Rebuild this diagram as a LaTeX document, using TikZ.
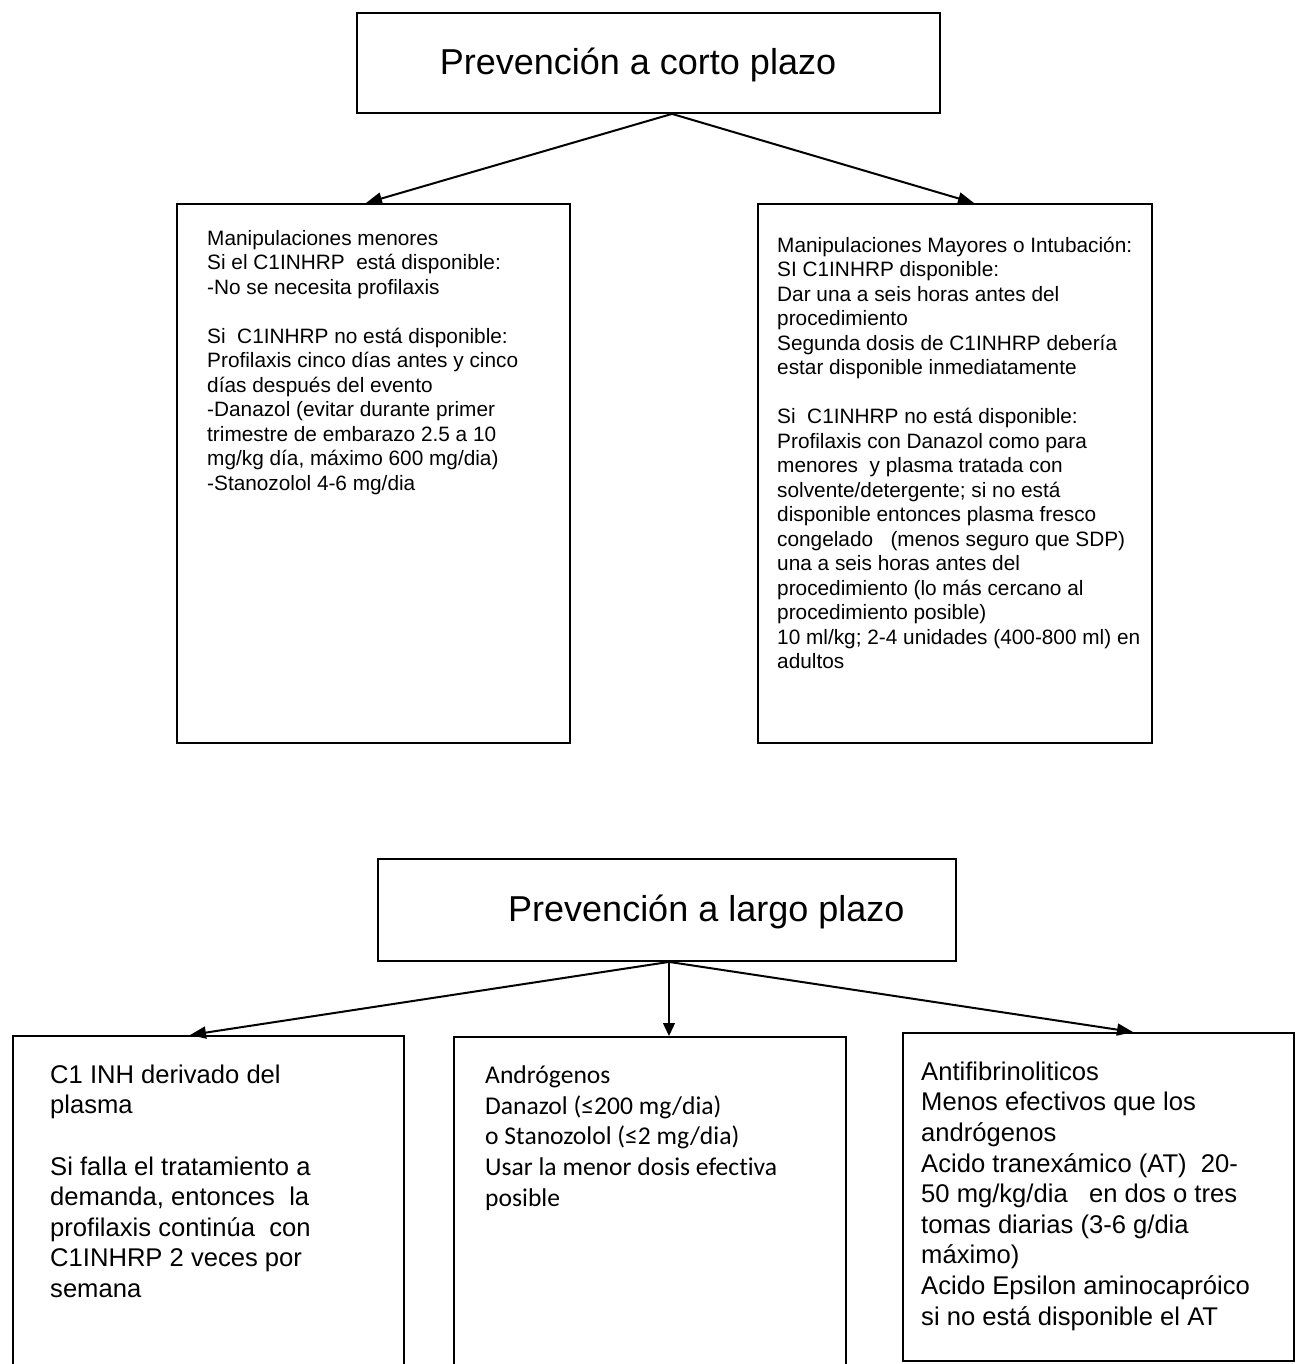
\documentclass[tikz,border=0pt]{standalone}
\usepackage{fontspec}
\setmainfont{Liberation Sans}
\newfontfamily\calfont[Ligatures={NoCommon,NoDiscretionary}]{Carlito}
\usetikzlibrary{arrows.meta,calc}
\begin{document}
\begin{tikzpicture}[x=1pt,y=-1pt,
  boxst/.style={draw=black, line width=1.9pt, inner sep=0pt, anchor=north west},
  arr/.style={line width=2pt, -{Triangle[length=16pt,width=12pt]}},
  arrthin/.style={line width=1.3pt, -{Triangle[length=13pt,width=12pt]}},
  txt/.style={anchor=north west, align=left, inner sep=0pt},
  small/.style={font=\fontsize{20.8}{24.5}\selectfont},
  big/.style={font=\fontsize{25.6}{30.6}\selectfont},
  ttl/.style={font=\fontsize{36}{40}\selectfont, inner sep=0pt}]
\useasboundingbox (0,0) rectangle (1299,1364);
\clip (0,0) rectangle (1299,1364);

% ---------- short-term ----------
\node[boxst, minimum width=583pt, minimum height=100pt] (T) at (356,12) {};
\node[ttl, anchor=base] (Tt) at (638,75) {Prevención a corto plazo};

\node[boxst, minimum width=393pt, minimum height=539pt] (ML) at (176,203) {};
\node[boxst, minimum width=394pt, minimum height=539pt] (MR) at (757,203) {};

\node[txt, small] (MLt) at (207,229) {\rule{0pt}{16pt}Manipulaciones menores\\
Si el C1INHRP\ \ está disponible:\\
-No se necesita profilaxis\\[24.5pt]
Si\ \ C1INHRP no está disponible:\\
Profilaxis cinco días antes y cinco\\
días después del evento\\
-Danazol (evitar durante primer\\
trimestre de embarazo 2.5 a 10\\
mg/kg día, máximo 600 mg/dia)\\
-Stanozolol 4-6 mg/dia};

\node[txt, small] (MRt) at (777,236) {\rule{0pt}{16pt}Manipulaciones Mayores o Intubación:\\
SI C1INHRP disponible:\\
Dar una a seis horas antes del\\
procedimiento\\
Segunda dosis de C1INHRP debería\\
estar disponible inmediatamente\\[24.5pt]
Si\ \ C1INHRP no está disponible:\\
Profilaxis con Danazol como para\\
menores\ \ y plasma tratada con\\
solvente/detergente; si no está\\
disponible entonces plasma fresco\\
congelado\ \ \ (menos seguro que SDP)\\
una a seis horas antes del\\
procedimiento (lo más cercano al\\
procedimiento posible)\\
10 ml/kg; 2-4 unidades (400-800 ml) en\\
adultos};

\coordinate (o1) at ($(T.south west)+(316,0)$);
\draw[arr] (o1) -- ($(ML.north west)+(190,0)$);
\draw[arr] (o1) -- ($(MR.north west)+(217,0)$);

% ---------- long-term ----------
\node[boxst, minimum width=578pt, minimum height=102pt] (B) at (377,858) {};
\node[ttl, anchor=base west] (Bt) at (508,921) {Prevención a largo plazo};

\node[boxst, minimum width=391pt, minimum height=400pt] (L1) at (12,1035) {};
\node[boxst, minimum width=392pt, minimum height=400pt] (L2) at (453,1036) {};
\node[boxst, minimum width=391pt, minimum height=328pt] (L3) at (902,1032) {};

\node[txt, big] (L1t) at (50,1062) {\rule{0pt}{21pt}C1 INH derivado del\\
plasma\\[30.6pt]
Si falla el tratamiento a\\
demanda, entonces\ \ la\\
profilaxis continúa\ \ con\\
C1INHRP 2 veces por\\
semana};

\node[txt, font=\calfont\fontsize{25.6}{30.8}\selectfont] (L2t) at (485,1062) {\rule{0pt}{21pt}Andrógenos\\
Danazol (≤200 mg/dia)\\
o Stanozolol (≤2 mg/dia)\\
Usar la menor dosis efectiva\\
posible};

\node[txt, big] (L3t) at (921,1059) {\rule{0pt}{21pt}Antifibrinoliticos\\
Menos efectivos que los\\
andrógenos\\
Acido tranexámico (AT)\ \ 20-\\
50 mg/kg/dia\ \ \ en dos o tres\\
tomas diarias (3-6 g/dia\\
máximo)\\
Acido Epsilon aminocapróico\\
si no está disponible el AT};

\coordinate (o2) at ($(B.south west)+(292,0)$);
\draw[arr] (o2) -- ($(L1.north west)+(178,0)$);
\draw[arrthin] (o2) -- ($(L2.north west)+(216,0)$);
\draw[arr] (o2) -- ($(L3.north west)+(231,0)$);
\end{tikzpicture}
\end{document}
